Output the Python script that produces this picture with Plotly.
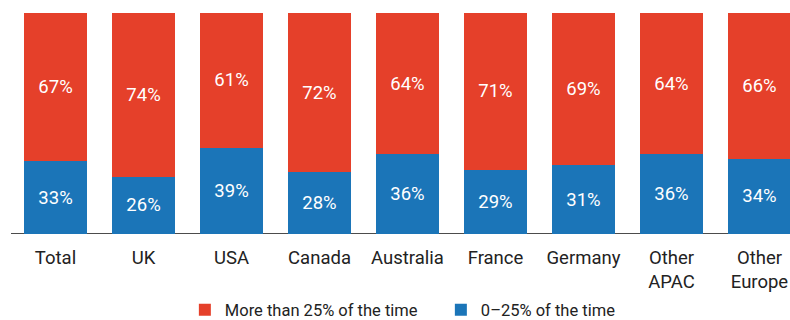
import plotly.graph_objects as go

categories = ["Total", "UK", "USA", "Canada", "Australia", "France", "Germany", "Other<br>APAC", "Other<br>Europe"]
low_share = [33, 26, 39, 28, 36, 29, 31, 36, 34]      # 0–25% of the time
high_share = [67, 74, 61, 72, 64, 71, 69, 64, 66]     # More than 25% of the time

RED = "#E5402A"
BLUE = "#1B75B8"
FONT = "Roboto"

fig = go.Figure()
fig.add_trace(go.Bar(
    x=categories, y=low_share, name="0\u201325% of the time",
    marker=dict(color=BLUE, line=dict(width=0)),
    text=[f"{v}%" for v in low_share], textposition="inside",
    insidetextanchor="middle", textfont=dict(color="white", size=18.5, family=FONT),
    width=0.716, legendrank=2,
))
fig.add_trace(go.Bar(
    x=categories, y=high_share, name="More than 25% of the time",
    marker=dict(color=RED, line=dict(width=0)),
    text=[f"{v}%" for v in high_share], textposition="inside",
    insidetextanchor="middle", textfont=dict(color="white", size=18.5, family=FONT),
    width=0.716, legendrank=1,
))

fig.update_layout(
    barmode="stack",
    width=790, height=320,
    margin=dict(l=0, r=0, t=13, b=86, autoexpand=False),
    paper_bgcolor="white", plot_bgcolor="white",
    font=dict(family=FONT, size=18, color="#222222"),
    showlegend=True,
    legend=dict(orientation="h", x=0.234, xanchor="left", y=-0.344, yanchor="middle",
                font=dict(size=16.5, color="#222222"), traceorder="normal",
                entrywidth=211, entrywidthmode="pixels", tracegroupgap=0),
    uniformtext=dict(mode="show", minsize=18),
)
fig.update_xaxes(range=[-0.631, 8.347], showgrid=False, showline=False, ticks="",
                 tickfont=dict(size=18.5, color="#222222"), fixedrange=True,
                 automargin=False, ticklabelstandoff=10)
fig.update_yaxes(range=[0, 100], visible=False, fixedrange=True, automargin=False)
fig.add_shape(type="line", xref="paper", yref="y", x0=11/790, x1=1, y0=0, y1=0,
              line=dict(color="#111111", width=1.5), layer="below")

fig.write_html("out.html")
